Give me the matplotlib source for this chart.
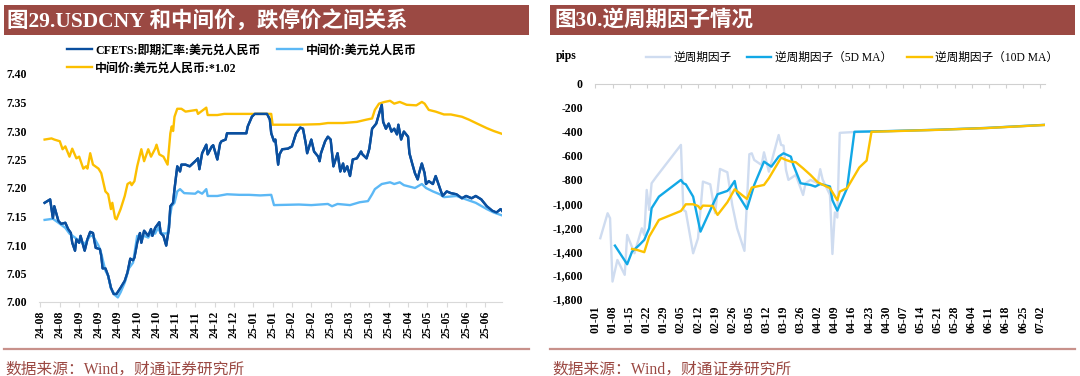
import matplotlib
matplotlib.use('Agg')
import matplotlib.pyplot as plt
from matplotlib.patches import Rectangle
from matplotlib.lines import Line2D
import numpy as np
import pandas as pd

SERIF_CJK = ['Liberation Serif', 'Noto Sans CJK SC']

# ---- left chart: USDCNY, days counted from 2024-08-05 ----
spot_day = [3, 7, 9, 10, 13, 15, 18, 20, 22, 23, 25, 26, 28, 29, 32, 34, 36, 38, 40, 43,
            44, 45, 47, 49, 51, 53, 55, 58, 61, 63, 65, 67, 68, 70, 72, 73, 75, 78, 80, 81,
            83, 86, 87, 89, 91, 93, 94, 96, 97, 99, 101, 102, 105, 108, 112, 114, 115, 117, 120, 121,
            124, 125, 128, 130, 131, 134, 135, 141, 149, 150, 153, 155, 159, 164, 166, 167, 169, 170, 172, 173,
            175, 179, 182, 185, 188, 190, 192, 193, 196, 198, 201, 202, 203, 206, 208, 210, 212, 215, 217, 219,
            220, 222, 224, 226, 229, 232, 233, 236, 238, 240, 243, 245, 247, 248, 250, 252, 254, 256, 258, 259,
            261, 263, 266, 267, 269, 271, 273, 274, 276, 278, 279, 281, 284, 286, 289, 291, 294, 297, 301, 305,
            308, 312, 315, 319, 323, 327, 330, 333, 334]
spot_val = [7.174, 7.180, 7.147, 7.168, 7.142, 7.137, 7.139, 7.128, 7.121, 7.104, 7.090, 7.110, 7.104, 7.116, 7.090, 7.110, 7.123, 7.121, 7.095, 7.093,
            7.081, 7.059, 7.059, 7.046, 7.025, 7.014, 7.014, 7.025, 7.037, 7.052, 7.076, 7.073, 7.078, 7.104, 7.121, 7.104, 7.125, 7.116, 7.128, 7.116,
            7.130, 7.140, 7.121, 7.116, 7.099, 7.130, 7.168, 7.174, 7.198, 7.238, 7.229, 7.241, 7.241, 7.238, 7.247, 7.252, 7.233, 7.261, 7.276, 7.259,
            7.273, 7.275, 7.250, 7.278, 7.282, 7.285, 7.296, 7.296, 7.296, 7.308, 7.325, 7.330, 7.330, 7.330, 7.320, 7.296, 7.282, 7.285, 7.241, 7.259,
            7.268, 7.269, 7.273, 7.296, 7.306, 7.304, 7.278, 7.261, 7.285, 7.264, 7.255, 7.247, 7.261, 7.282, 7.290, 7.285, 7.238, 7.261, 7.229, 7.243,
            7.229, 7.238, 7.221, 7.250, 7.252, 7.264, 7.259, 7.252, 7.269, 7.304, 7.313, 7.330, 7.346, 7.316, 7.304, 7.313, 7.299, 7.304, 7.294, 7.311,
            7.285, 7.299, 7.290, 7.261, 7.243, 7.226, 7.215, 7.226, 7.243, 7.226, 7.207, 7.212, 7.207, 7.221, 7.200, 7.186, 7.194, 7.191, 7.189, 7.182,
            7.186, 7.182, 7.186, 7.180, 7.168, 7.160, 7.157, 7.163, 7.160]

mid_day = [3, 9, 13, 18, 21, 25, 28, 32, 36, 38, 42, 44, 47, 49, 51, 54, 56, 58, 61, 64,
           67, 70, 73, 75, 78, 80, 83, 85, 87, 90, 92, 94, 95, 97, 99, 101, 104, 112, 114, 117,
           120, 121, 128, 135, 144, 151, 159, 167, 169, 187, 196, 208, 211, 215, 224, 231, 237, 240, 242, 247,
           253, 256, 260, 263, 271, 276, 279, 284, 289, 292, 301, 308, 315, 323, 328, 334]
mid_val = [7.144, 7.146, 7.139, 7.130, 7.120, 7.113, 7.107, 7.102, 7.116, 7.116, 7.099, 7.085, 7.055, 7.046, 7.024, 7.012, 7.008, 7.017, 7.034, 7.059,
           7.069, 7.116, 7.110, 7.116, 7.113, 7.121, 7.120, 7.130, 7.121, 7.120, 7.121, 7.154, 7.168, 7.174, 7.194, 7.198, 7.191, 7.190, 7.194, 7.190,
           7.198, 7.186, 7.186, 7.189, 7.188, 7.188, 7.187, 7.188, 7.170, 7.171, 7.170, 7.172, 7.168, 7.172, 7.170, 7.175, 7.177, 7.189, 7.198, 7.207,
           7.210, 7.207, 7.210, 7.205, 7.200, 7.207, 7.200, 7.194, 7.189, 7.184, 7.186, 7.180, 7.174, 7.163, 7.157, 7.152]

mid102_day = [3, 8, 10, 14, 16, 18, 21, 23, 26, 28, 31, 33, 34, 36, 38, 42, 44, 47, 49, 51,
              52, 54, 55, 58, 61, 63, 65, 66, 68, 70, 73, 75, 78, 80, 83, 84, 86, 89, 92, 94,
              95, 96, 97, 99, 102, 105, 113, 114, 120, 121, 128, 133, 143, 153, 167, 168, 187, 202, 208, 219,
              229, 236, 240, 242, 245, 249, 253, 256, 260, 265, 272, 276, 278, 281, 286, 292, 297, 305, 310, 316,
              323, 328, 334]
mid102_val = [7.285, 7.287, 7.285, 7.282, 7.268, 7.273, 7.255, 7.269, 7.252, 7.255, 7.234, 7.238, 7.234, 7.261, 7.241, 7.234, 7.226, 7.194, 7.189, 7.163,
              7.174, 7.147, 7.145, 7.163, 7.186, 7.207, 7.210, 7.205, 7.212, 7.238, 7.268, 7.247, 7.268, 7.255, 7.269, 7.276, 7.259, 7.255, 7.241, 7.296,
              7.308, 7.300, 7.325, 7.339, 7.339, 7.334, 7.337, 7.330, 7.341, 7.328, 7.328, 7.330, 7.330, 7.330, 7.330, 7.311, 7.311, 7.312, 7.314, 7.314,
              7.316, 7.320, 7.322, 7.337, 7.348, 7.351, 7.353, 7.348, 7.351, 7.346, 7.345, 7.351, 7.348, 7.337, 7.334, 7.329, 7.329, 7.325, 7.320, 7.313,
              7.305, 7.300, 7.295]

left_start = pd.Timestamp('2024-08-05')
left_ticks = pd.date_range(left_start, periods=24, freq='14D')
left_yticks = [7.00, 7.05, 7.10, 7.15, 7.20, 7.25, 7.30, 7.35, 7.40]

# ---- right chart: counter-cyclical factor (pips), days counted from 2025-01-01 ----
ccf_day = [2, 5, 6, 7, 9, 12, 13, 16, 19, 20, 21, 22, 23, 25, 35, 36, 37, 40, 42, 44,
           47, 49, 51, 54, 56, 58, 61, 63, 64, 65, 68, 69, 71, 73, 75, 76, 77, 78, 79, 82,
           83, 85, 86, 88, 91, 92, 93, 96, 97, 98, 99, 100, 105, 120, 140, 160, 184]
ccf_val = [-1291, -1082, -1124, -1654, -1473, -1598, -1264, -1417, -1208, -1264, -887, -1054, -831, -775, -510, -1054, -1068, -1417, -1291, -817,
           -840, -1082, -711, -739, -1012, -1208, -1397, -588, -580, -636, -678, -572, -734, -580, -427, -510, -516, -720, -803, -761,
           -817, -929, -831, -803, -831, -713, -800, -929, -1423, -1075, -1118, -409, -403, -395, -383, -368, -342]

ma5_day = [8, 13, 15, 18, 20, 22, 23, 26, 35, 36, 37, 40, 43, 48, 50, 54, 55, 57, 58, 62,
           65, 69, 72, 75, 77, 80, 81, 84, 88, 90, 92, 96, 97, 99, 103, 106, 120, 140, 160, 184]
ma5_val = [-1353, -1509, -1403, -1347, -1305, -1208, -1040, -943, -803, -831, -840, -943, -1236, -1012, -923, -895, -873, -812, -915, -1046,
           -845, -650, -692, -608, -580, -608, -678, -831, -845, -859, -837, -858, -973, -1060, -872, -400, -394, -383, -368, -342]

ma10_day = [15, 17, 20, 22, 24, 26, 35, 37, 40, 42, 43, 44, 48, 50, 54, 57, 62, 64, 69, 71,
            76, 78, 80, 82, 85, 88, 91, 96, 99, 100, 103, 108, 111, 113, 120, 140, 160, 184]
ma10_val = [-1381, -1389, -1408, -1278, -1208, -1138, -1063, -1007, -1007, -1021, -1046, -1018, -1021, -1096, -990, -881, -962, -867, -845, -789,
            -617, -636, -650, -655, -706, -761, -823, -872, -973, -901, -872, -699, -641, -400, -396, -384, -369, -343]

right_start = pd.Timestamp('2025-01-01')
right_ticks = pd.date_range(right_start, '2025-07-02', freq='7D')
right_yticks = list(range(-1800, 1, 200))


def to_dates(start, days):
    return start + pd.to_timedelta(np.asarray(days, dtype=float), unit='D')


BAR = '#9b4943'
fig = plt.figure(figsize=(10.8, 3.76), dpi=100)
W, H = 1080.0, 376.0


def px_box(x0, y0, x1, y1):
    # pixel box (top-left origin) -> figure fraction rect
    return [x0 / W, 1 - y1 / H, (x1 - x0) / W, (y1 - y0) / H]


# title bars, footers
for x0, x1, title, tx in [(3.5, 529, '图29.USDCNY 和中间价，跌停价之间关系', 7),
                          (550, 1075, '图30.逆周期因子情况', 554)]:
    r = px_box(x0, 5, x1, 35)
    fig.add_artist(Rectangle((r[0], r[1]), r[2], r[3], transform=fig.transFigure,
                             facecolor=BAR, edgecolor='none'))
    fig.text(tx / W, 1 - 20.5 / H, title, color='white', fontsize=15.5, fontweight='bold',
             family=SERIF_CJK, va='center', ha='left')
    fig.add_artist(Line2D([x0 / W, x1 / W], [1 - 349 / H] * 2, transform=fig.transFigure,
                          color='#c8918b', lw=1.6))
    fig.text((x0 + 2) / W, 1 - 370 / H, '数据来源：Wind，财通证券研究所', color=BAR,
             fontsize=11.3, family=SERIF_CJK, va='center', ha='left')

tick_font = dict(family='Liberation Serif', fontweight='bold', fontsize=8.5)

# ---- left axes ----
ax1 = fig.add_axes(px_box(38.8, 74, 502, 302))
l_spot, = ax1.plot(to_dates(left_start, spot_day), spot_val, color='#0a4f9f', lw=1.7)
l_mid, = ax1.plot(to_dates(left_start, mid_day), mid_val, color='#5cb8f5', lw=1.7)
l_102, = ax1.plot(to_dates(left_start, mid102_day), mid102_val, color='#fcbf00', lw=1.7)
ax1.plot(to_dates(left_start, spot_day), spot_val, color='#0a4f9f', lw=1.7)
ax1.set_ylim(7.0, 7.4)
ax1.set_xlim(left_start - pd.Timedelta(days=1.2), left_start + pd.Timedelta(days=334))
ax1.set_yticks(left_yticks)
ax1.set_yticklabels(['%.2f' % v for v in left_yticks], **tick_font)
ax1.set_xticks(left_ticks)
ax1.set_xticklabels([d.strftime('%y-%m') for d in left_ticks], rotation=90, **tick_font)
for s in ['top', 'right', 'left']:
    ax1.spines[s].set_visible(False)
ax1.spines['bottom'].set_color('#d9d9d9')
ax1.tick_params(axis='x', direction='out', length=3.5, color='#d9d9d9', pad=3)
ax1.tick_params(axis='y', length=0, pad=8.5)

fig.legend([l_spot, l_102, l_mid],
           ['CFETS:即期汇率:美元兑人民币', '中间价:美元兑人民币:*1.02', '中间价:美元兑人民币'],
           ncol=2, loc='upper left', bbox_to_anchor=(66.7 / W, 1 - 44.5 / H), frameon=False,
           borderpad=0, borderaxespad=0, handlelength=2.1, handletextpad=0.3,
           columnspacing=1.4, labelspacing=0.5,
           prop=dict(family=SERIF_CJK, weight='bold', size=8.6))

# ---- right axes ----
ax2 = fig.add_axes(px_box(595.4, 84, 1045, 299))
r_raw, = ax2.plot(to_dates(right_start, ccf_day), ccf_val, color='#cfdcf0', lw=1.7)
r_ma5, = ax2.plot(to_dates(right_start, ma5_day), ma5_val, color='#12a8e6', lw=1.7)
r_ma10, = ax2.plot(to_dates(right_start, ma10_day), ma10_val, color='#fcc200', lw=1.7)
ax2.set_ylim(-1800, 0)
ax2.set_xlim(right_start, right_start + pd.Timedelta(days=184))
ax2.set_yticks(right_yticks)
ax2.set_yticklabels([f'{v:,}' for v in right_yticks], **tick_font)
ax2.set_xticks(right_ticks)
ax2.set_xticklabels([d.strftime('%m-%d') for d in right_ticks], rotation=90, **tick_font)
for s in ['bottom', 'right', 'left']:
    ax2.spines[s].set_visible(False)
ax2.spines['top'].set_color('#d0d0d0')
ax2.tick_params(axis='x', top=True, bottom=False, labelbottom=True, labeltop=False,
                direction='in', length=3, color='#d0d0d0', pad=5)
ax2.tick_params(axis='y', length=0, pad=9)
fig.text(555.6 / W, 1 - 55.6 / H, 'pips', ha='left', va='center', **tick_font)

fig.legend([r_raw, r_ma5, r_ma10],
           ['逆周期因子', '逆周期因子（5D MA）', '逆周期因子（10D MA）'],
           ncol=3, loc='upper left', bbox_to_anchor=(645.5 / W, 1 - 52 / H), frameon=False,
           borderpad=0, borderaxespad=0, handlelength=2.1, handletextpad=0.3,
           columnspacing=1.3, prop=dict(family=SERIF_CJK, size=8.4))

fig.savefig('out.png', dpi=100)
